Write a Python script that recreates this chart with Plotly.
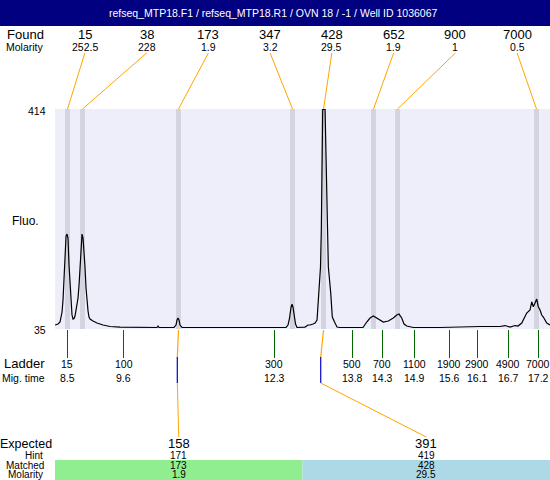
import plotly.graph_objects as go

# ---------------- data ----------------
trace_time = [8.278, 8.334, 8.371, 8.408, 8.426, 8.445, 8.463, 8.482, 8.500, 8.518,
              8.537, 8.555, 8.574, 8.592, 8.611, 8.629, 8.648, 8.666, 8.685, 8.703,
              8.722, 8.740, 8.759, 8.777, 8.796, 8.814, 8.832, 8.851, 8.869, 8.888,
              8.906, 8.925, 8.980, 9.054, 9.165, 9.294, 9.479, 10.033, 10.162, 10.181,
              10.199, 10.476, 10.513, 10.532, 10.550, 10.569, 10.587, 10.624, 11.326, 12.065,
              12.545, 12.582, 12.610, 12.638, 12.656, 12.674, 12.693, 12.721, 12.748, 12.804,
              12.896, 12.952, 12.989, 13.044, 13.081, 13.118, 13.146, 13.164, 13.182, 13.197,
              13.205, 13.214, 13.223, 13.266, 13.280, 13.297, 13.312, 13.327, 13.371, 13.400,
              13.450, 13.487, 13.543, 13.727, 13.967, 14.036, 14.097, 14.158, 14.221, 14.281,
              14.342, 14.435, 14.527, 14.590, 14.632, 14.682, 14.725, 14.775, 14.836, 14.896,
              15.390, 15.815, 15.944, 16.073, 16.129, 16.313, 16.498, 16.590, 16.683, 16.775,
              16.830, 16.899, 16.928, 16.991, 17.052, 17.084, 17.113, 17.144, 17.176, 17.205,
              17.237, 17.268, 17.298, 17.361, 17.421]
trace_fluo = [40.2, 41.9, 45.4, 62.7, 83.5, 126.7, 170.0, 194.2, 197.7, 190.8,
              144.0, 109.4, 74.8, 57.5, 50.6, 51.4, 55.8, 66.2, 78.3, 86.9,
              109.4, 140.6, 178.6, 197.7, 190.8, 170.0, 140.6, 104.2, 80.0, 64.4,
              54.0, 50.6, 47.1, 43.7, 40.2, 37.6, 36.7, 35.9, 35.9, 38.5,
              35.9, 35.9, 40.2, 48.8, 52.3, 48.8, 40.2, 35.9, 35.9, 35.9,
              35.9, 40.2, 52.3, 71.3, 76.5, 71.3, 55.8, 41.9, 35.9, 35.9,
              36.7, 40.2, 40.2, 41.9, 43.7, 48.8, 83.5, 109.4, 140.6, 204.6,
              256.5, 343.1, 414.0, 414.0, 343.1, 256.5, 187.3, 140.6, 95.6, 54.0,
              43.7, 36.7, 35.9, 35.9, 35.9, 45.4, 52.3, 55.8, 52.3, 48.8,
              45.4, 47.1, 52.3, 57.5, 59.2, 52.3, 41.9, 38.5, 36.7, 35.9,
              35.9, 37.6, 37.6, 38.5, 37.6, 37.6, 37.6, 39.3, 36.7, 39.3,
              38.5, 43.7, 48.8, 61.0, 66.2, 80.5, 71.9, 78.3, 85.2, 71.9,
              66.2, 57.5, 54.0, 43.7, 40.2]

found_size = [15, 38, 173, 347, 428, 652, 900, 7000]
found_molarity = ["252.5", "228", "1.9", "3.2", "29.5", "1.9", "1", "0.5"]
found_time = [8.509, 8.786, 10.559, 12.665, 13.238, 14.161, 14.605, 17.172]

ladder_size = [15, 100, 300, 500, 700, 1100, 1900, 2900, 4900, 7000]
ladder_mig = ["8.5", "9.6", "12.3", "13.8", "14.3", "14.9", "15.6", "16.1", "16.7", "17.2"]
ladder_time = [8.500, 9.550, 12.324, 13.764, 14.318, 14.909, 15.556, 16.073, 16.650, 17.200]

expected_size = [158, 391]
expected_hint = [171, 419]
matched_size = [173, 428]
matched_molarity = ["1.9", "29.5"]
matched_time = [10.559, 13.238]
expected_time = [10.537, 13.186]
matched_colors = ["#90EE90", "#ADD8E6"]

y_ticks = [35, 414]
title_text = "refseq_MTP18.F1 / refseq_MTP18.R1 / OVN 18 / -1 / Well ID 1036067"

# ---------------- layout helpers ----------------
W, H = 550, 480
L, T, B = 55, 109, 329
X0, X1 = 8.278, 17.421
Y0, Y1 = 33.3, 414.5
FONT = "Liberation Sans, Arial, sans-serif"
ORANGE = "#FFA500"


def px2p(px):
    return (px - L) / (W - L)


def py2p(py):
    return (B - py) / (B - T)


def px2t(px):
    return X0 + (px - L) * (X1 - X0) / (W - L)


def label(xref, x, yref, y, text, size, xanchor="center", color="black", yshift=0):
    return dict(xref=xref, yref=yref, x=x, y=y, text=text, showarrow=False,
                xanchor=xanchor, yanchor="middle", yshift=yshift,
                font=dict(family=FONT, size=size, color=color))


def seg(x0, x1, y0, y1, color, width=1):
    return dict(type="line", xref="x", yref="paper", x0=x0, x1=x1, y0=y0, y1=y1,
                line=dict(color=color, width=width), layer="above")


fig = go.Figure()
fig.add_trace(go.Scatter(x=trace_time, y=trace_fluo, mode="lines",
                         line=dict(color="black", width=1.2), hoverinfo="skip"))

shapes = []
annotations = []

# title bar
shapes.append(dict(type="rect", xref="paper", yref="paper", x0=px2p(0), x1=1,
                   y0=py2p(26), y1=py2p(0), fillcolor="#000080", line=dict(width=0),
                   layer="above"))
annotations.append(label("paper", px2p(273), "paper", py2p(13), title_text, 10.5, color="white"))

# peak bands + connectors + found labels
for i, (s, m, t) in enumerate(zip(found_size, found_molarity, found_time)):
    shapes.append(dict(type="rect", xref="x", yref="y", x0=t - 0.046, x1=t + 0.046,
                       y0=Y0, y1=Y1, fillcolor="#D4D4E0", line=dict(width=0), layer="below"))
    lx = px2t(54 + 61.75 * (i + 0.5))
    shapes.append(seg(lx, t, py2p(53), py2p(109), ORANGE))
    annotations.append(label("x", lx, "paper", py2p(34.5), str(s), 13))
    annotations.append(label("x", lx, "paper", py2p(47), m, 10.5))

# y-axis value labels
for v in y_ticks:
    annotations.append(label("paper", px2p(48), "y", v, str(v), 10.5, xanchor="right", yshift=-1.5))

# ladder labels
for s, m, t in zip(ladder_size, ladder_mig, ladder_time):
    annotations.append(label("x", t, "paper", py2p(363.5), str(s), 10.5))
    annotations.append(label("x", t, "paper", py2p(378), m, 10.5))

# expected section
ncol = len(expected_size)
colw = (W - L) / ncol
for i in range(ncol):
    cx = px2t(L + colw * (i + 0.5))
    shapes.append(dict(type="rect", xref="paper", yref="paper", x0=px2p(L + colw * i),
                       x1=px2p(L + colw * (i + 1)), y0=py2p(480), y1=py2p(460),
                       fillcolor=matched_colors[i], line=dict(width=0), layer="below"))
    shapes.append(seg(matched_time[i], expected_time[i], py2p(330), py2p(357), ORANGE, 1.2))
    shapes.append(seg(expected_time[i], expected_time[i], py2p(357), py2p(383), "#0000CC", 1.2))
    shapes.append(seg(expected_time[i], cx, py2p(383), py2p(437), ORANGE, 1))
    annotations.append(label("x", cx, "paper", py2p(443.5), str(expected_size[i]), 13))
    annotations.append(label("x", cx, "paper", py2p(455), str(expected_hint[i]), 10))
    annotations.append(label("x", cx, "paper", py2p(465), str(matched_size[i]), 10))
    annotations.append(label("x", cx, "paper", py2p(474.5), matched_molarity[i], 10))

# left labels
left_labels = [("Found", 34.5, 13, 46), ("Molarity", 47, 10.5, 46), ("Fluo.", 221, 12, 41),
               ("Ladder", 363.5, 13, 47), ("Mig. time", 378, 10.5, 47),
               ("Expected", 443.5, 12.5, 54), ("Hint", 455, 10, 45),
               ("Matched", 465, 10, 46), ("Molarity", 474.5, 10, 45)]
for text, py, size, right in left_labels:
    annotations.append(label("paper", px2p(right), "paper", py2p(py), text, size, xanchor="right"))

fig.update_layout(
    width=W, height=H,
    margin=dict(l=L, r=0, t=T, b=H - B, pad=0),
    paper_bgcolor="white", plot_bgcolor="#EEEEFB",
    showlegend=False,
    shapes=shapes, annotations=annotations,
    font=dict(family=FONT, size=11, color="black"),
    xaxis=dict(range=[X0, X1], showgrid=False, zeroline=False, showline=False,
               tickmode="array", tickvals=ladder_time, showticklabels=False,
               ticks="outside", ticklen=28, tickwidth=1, tickcolor="#006400",
               fixedrange=True),
    yaxis=dict(range=[Y0, Y1], showgrid=False, zeroline=False, showline=False,
               showticklabels=False, ticks="", fixedrange=True),
)

fig.write_html("out.html", config={"displayModeBar": False},
               post_script="document.body.style.margin='0';")
